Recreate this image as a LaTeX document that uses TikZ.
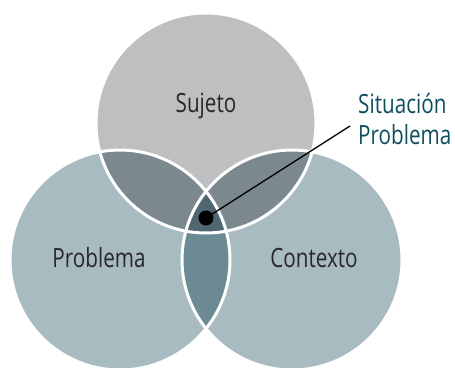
\documentclass[tikz,border=0pt]{standalone}
\usepackage{fontspec}
\setmainfont{Open Sans}[FakeStretch=0.78]
\usepackage{tikz}

\definecolor{sujetogray}{RGB}{190,191,193}
\definecolor{circleblue}{RGB}{167,187,193}
\definecolor{lensgray}{RGB}{123,137,143}
\definecolor{lensblue}{RGB}{107,138,147}
\definecolor{centerblue}{RGB}{79,103,112}
\definecolor{labeltext}{RGB}{40,40,40}
\definecolor{situtext}{RGB}{14,79,94}

\tikzset{
  label/.style={text=labeltext, anchor=base, inner sep=0pt, font=\fontsize{26.5}{31}\selectfont},
  situlabel/.style={text=situtext, anchor=base west, align=left, inner sep=0pt, font=\fontsize{26.5}{31}\selectfont},
  border/.style={draw=white, line width=3pt}
}

\begin{document}
\begin{tikzpicture}[x=1pt,y=-1pt]
  \useasboundingbox (0,0) rectangle (455,367);

  % Define the three circles
  \def\sujeto{(206,123) circle (110)}
  \def\problema{(120,260) circle (110)}
  \def\contexto{(292,260) circle (110)}

  % Fill the circles
  \fill[sujetogray] \sujeto;
  \fill[circleblue] \problema;
  \fill[circleblue] \contexto;

  % Fill the overlaps of two circles
  \begin{scope}
    \clip \sujeto;
    \fill[lensgray] \problema;
    \fill[lensgray] \contexto;
  \end{scope}
  \begin{scope}
    \clip \problema;
    \fill[lensblue] \contexto;
  \end{scope}

  % Fill the overlap of all three
  \begin{scope}
    \clip \sujeto;
    \clip \problema;
    \fill[centerblue] \contexto;
  \end{scope}

  % Draw the white borders
  \draw[border] \sujeto;
  \draw[border] \problema;
  \draw[border] \contexto;

  % Draw the labels
  \node[label] (sujetolabel) at (206,112) {Sujeto};
  \node[label] (problemalabel) at (99,267) {Problema};
  \node[label] (contextolabel) at (314,267) {Contexto};
  \node[situlabel] (situacion) at (358,144) {Situación\\Problema};

  % Draw the point and its pointer
  \node[circle, fill=black, inner sep=0pt, minimum size=15pt] (dot) at (206,218) {};
  \coordinate (tip) at (350,126);
  \draw[line width=1.3pt] (dot.center) -- (tip);

\end{tikzpicture}
\end{document}
